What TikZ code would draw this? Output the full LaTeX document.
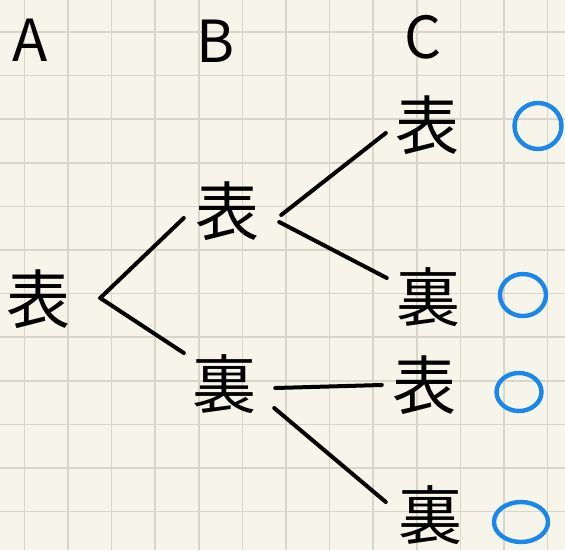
\documentclass[tikz,border=0pt]{standalone}
\usepackage{fontspec}
\newfontfamily\jp{Noto Sans CJK JP}
\usetikzlibrary{shapes.geometric}
\definecolor{paper}{RGB}{247,245,234}
\definecolor{gridc}{RGB}{216,214,201}
\definecolor{penblue}{RGB}{25,135,235}
\tikzset{
  kanji/.style={inner sep=0pt, font=\jp\fontsize{64}{64}\selectfont},
  head/.style={inner sep=0pt, font=\jp\fontsize{58}{58}\selectfont},
  conn/.style={line width=4pt, line cap=round, line join=round},
  okmark/.style={ellipse, draw=penblue, line width=4.4pt, inner sep=0pt},
}
\begin{document}
\begin{tikzpicture}[x=1pt, y=-1pt]
\fill[paper] (0,0) rectangle (565,550);
\useasboundingbox (0,0) rectangle (565,550);
\foreach \i in {0,...,12} {
  \draw[gridc, line width=1.6pt] ({24.3+43.6*\i},0) -- ({24.3+43.6*\i},550);
}
\foreach \j in {0,...,12} {
  \draw[gridc, line width=1.6pt] (0,{32+43.6*\j}) -- (565,{32+43.6*\j});
}
% headers
\node[head] (hA) at (30,40) {A};
\node[head] (hB) at (216,41) {B};
\node[head] (hC) at (423,37) {C};
% tree nodes
\node[kanji] (a)  at (38,299) {表};
\node[kanji] (b1) at (227,211) {表};
\node[kanji] (b2) at (224,384) {裏};
\node[kanji] (c1) at (427,125) {表};
\node[kanji] (c2) at (428,297) {裏};
\node[kanji] (c3) at (424,385) {表};
\node[kanji] (c4) at (430,515) {裏};
% connectors
\draw[conn] ([shift={(30,-1)}]a.east) -- ([shift={(-11,7)}]b1.west);
\draw[conn] ([shift={(30,-1)}]a.east) -- ([shift={(-8,-31)}]b2.west);
\draw[conn] ([shift={(22,4)}]b1.east) -- ([shift={(-9,8)}]c1.west);
\draw[conn] ([shift={(20,11)}]b1.east) -- ([shift={(-9,-19)}]c2.west);
\draw[conn] ([shift={(19,4)}]b2.east) -- ([shift={(-10,0)}]c3.west);
\draw[conn] ([shift={(18,24)}]b2.east) -- ([shift={(-12,-13)}]c4.west);
% marks
\node[okmark, minimum width=47pt, minimum height=46pt] (o1) at (538,126) {};
\node[okmark, minimum width=46pt, minimum height=42pt] (o2) at (523,295) {};
\node[okmark, minimum width=45pt, minimum height=38pt] (o3) at (519,392) {};
\node[okmark, minimum width=54pt, minimum height=40pt] (o4) at (521,522) {};
\end{tikzpicture}
\end{document}
